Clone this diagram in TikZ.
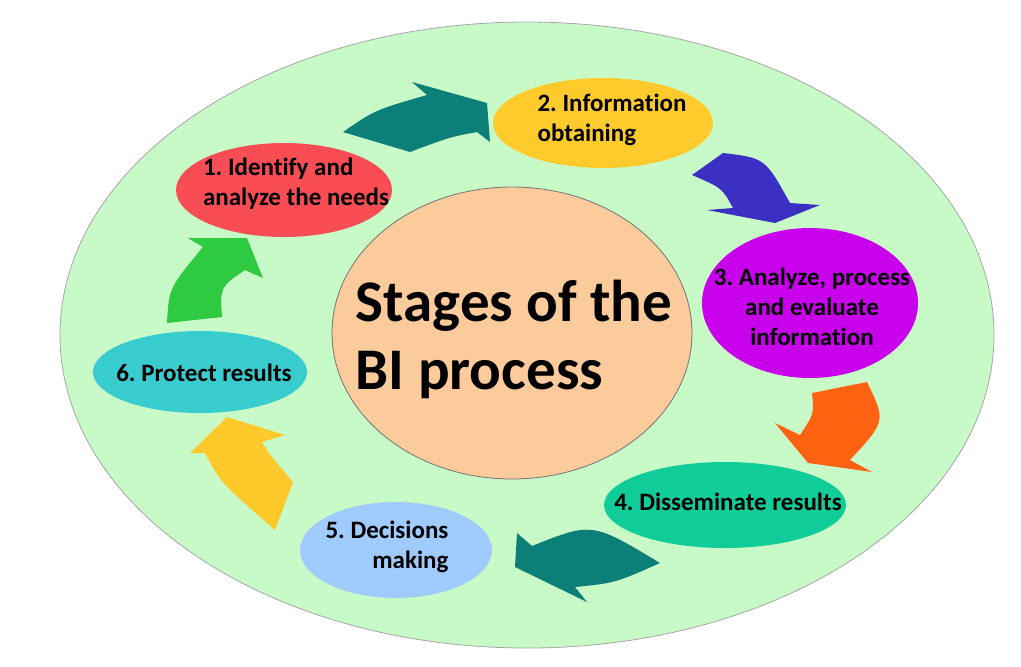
\documentclass[tikz,border=0pt]{standalone}
\usepackage{fontspec}
\setmainfont{Carlito}[RawFeature={-liga;-clig}]
\frenchspacing
\usetikzlibrary{shapes.geometric, positioning}
\definecolor{bggreen}{HTML}{C8FAC8}
\definecolor{peach}{HTML}{FBCB9B}
\definecolor{needred}{HTML}{F84D55}
\definecolor{obtyellow}{HTML}{FFCB2C}
\definecolor{anapurple}{HTML}{C900EC}
\definecolor{disgreen}{HTML}{10CC99}
\definecolor{decblue}{HTML}{9FCBFD}
\definecolor{procyan}{HTML}{38CCCF}
\definecolor{arrteal}{HTML}{0D7F79}
\definecolor{arrblue}{HTML}{3B2FC4}
\definecolor{arrorange}{HTML}{FF6210}
\definecolor{arryellow}{HTML}{FFC92B}
\definecolor{arrgreen}{HTML}{2ECB42}
\tikzset{
  backdrop/.style = {draw=black!35, fill=bggreen},
  hubring/.style  = {draw=black!55, fill=peach},
  hub/.style      = {inner sep=0pt, align=left,
                     font=\fontsize{29.5}{34}\selectfont\bfseries},
  stage/.style    = {inner sep=0pt, align=center,
                     font=\fontsize{12.5}{15}\selectfont\bfseries},
}

\begin{document}
\begin{tikzpicture}[x=0.5pt, y=-0.5pt]
  \useasboundingbox (0,0) rectangle (1021,666);

  % backdrop and centre
  \filldraw[backdrop] (527,335) ellipse [x radius=467, y radius=313];
  \filldraw[hubring] (512,333) ellipse [x radius=180, y radius=146];
  \node[hub] (hub) at (514,339) {Stages of the\\BI process};

  % stage ellipses
  \fill[needred]   (284,190) ellipse [x radius=108, y radius=47];
  \fill[obtyellow] (603,123) ellipse [x radius=110, y radius=45];
  \fill[anapurple] (810,303) ellipse [x radius=108, y radius=75];
  \fill[disgreen]  (725,505) ellipse [x radius=121, y radius=43];
  \fill[decblue]   (396,550) ellipse [x radius=96,  y radius=48];
  \fill[procyan]   (200,372) ellipse [x radius=107, y radius=41];

  \node[stage, align=left]  (needs)   at (296,184) {1. Identify and\\analyze the needs};
  \node[stage, align=left]  (obtain)  at (612,120) {2. Information\\obtaining};
  \node[stage]              (analyze) at (812,307) {3. Analyze, process\\and evaluate\\information};
  \node[stage]              (dissem)  at (728,502) {4. Disseminate results};
  \node[stage, align=right] (decide)  at (387,547) {5. Decisions\\making};
  \node[stage]              (protect) at (204,373) {6. Protect results};

  % curved block arrows between the stages
  \fill[arrteal] (343,132) .. controls (375,110) .. (427,95) -- (412,82) -- (487,103)
    -- (490,142) -- (477,132) .. controls (450,137) .. (410,152) -- cycle;
  \fill[arrblue] (692,175) -- (723,153) .. controls (765,158) .. (790,203) -- (820,205)
    -- (775,223) -- (707,210) -- (733,208) .. controls (722,188) .. (692,175) -- cycle;
  \fill[arrorange] (812,393) -- (867,382) .. controls (886,421) .. (850,460) -- (872,472)
    -- (808,463) -- (775,423) -- (800,435) .. controls (814,414) .. (812,393) -- cycle;
  \fill[arrteal] (517,533) -- (532,546) .. controls (592,522) .. (660,563)
    .. controls (615,583) .. (575,587) -- (587,602) -- (515,567) -- cycle;
  \fill[arryellow] (190,453) -- (227,417) -- (285,435) -- (262,442) .. controls (270,455) .. (293,482)
    -- (275,530) .. controls (220,482) .. (205,453) -- cycle;
  \fill[arrgreen] (188,238) -- (247,238) -- (263,278) -- (245,270) .. controls (220,287) .. (222,317)
    -- (167,323) .. controls (169,288) .. (203,247) -- cycle;
\end{tikzpicture}
\end{document}
